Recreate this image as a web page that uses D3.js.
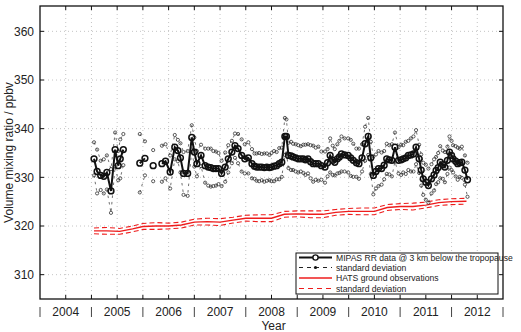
<!DOCTYPE html>
<html><head><meta charset="utf-8">
<script src="https://cdn.jsdelivr.net/npm/d3@7"></script>
<style>body{margin:0;background:#fff}svg{display:block}text{font-family:"Liberation Sans",Arial,Helvetica,sans-serif;fill:#222}</style>
</head><body><svg id="c" width="521" height="332"></svg>
<script>
// MIPAS RR mean (null = gap), and standard deviation
const mipasTime = [2005.05,2005.11,2005.18,2005.24,2005.30,2005.38,2005.46,2005.52,2005.56,2005.62,null,
 2005.94,2006.04,null,2006.20,null,
 2006.37,2006.44,2006.53,2006.62,2006.68,2006.73,2006.79,2006.87,2006.95,2007.00,2007.05,2007.13,2007.21,2007.27,2007.32,2007.37,2007.42,2007.47,2007.53,2007.60,2007.66,2007.73,2007.79,2007.85,2007.92,2007.98,
 2008.05,2008.12,2008.17,2008.21,2008.26,2008.31,2008.36,2008.41,2008.46,2008.50,2008.55,2008.60,2008.65,2008.70,2008.76,2008.79,2008.83,2008.88,2008.92,2008.97,
 2009.02,2009.07,2009.12,2009.16,2009.21,2009.26,2009.31,2009.36,2009.41,2009.47,2009.54,2009.59,2009.64,2009.69,2009.73,2009.78,2009.82,2009.86,2009.92,2009.99,
 2010.04,2010.09,2010.15,2010.20,2010.26,2010.32,2010.38,2010.43,2010.48,2010.53,2010.58,2010.64,2010.69,2010.74,2010.79,2010.84,2010.90,2010.97,
 2011.02,2011.06,2011.11,2011.16,2011.21,2011.26,2011.31,2011.37,2011.41,2011.45,2011.50,2011.55,2011.61,2011.66,2011.70,2011.74,2011.78,2011.83,2011.87,2011.92,2011.96,
 2012.00,2012.03,2012.08,2012.12,2012.16,2012.20,2012.26,2012.31];
const mipasMean = [333.8,331.2,330.4,330.2,331.0,327.2,335.7,332.4,333.8,335.7,null,
 332.9,333.9,null,332.4,null,
 332.8,333.3,331.1,336.2,335.5,334.0,330.8,330.8,338.2,335.2,332.8,334.5,332.4,332.1,332.0,331.8,331.8,331.8,330.8,332.1,333.8,335.2,336.5,335.9,334.5,333.8,
 334.0,332.8,332.3,332.1,332.1,332.1,332.0,332.1,332.0,332.1,332.3,332.4,332.8,333.1,338.4,338.4,334.5,334.4,334.2,334.0,
 333.8,333.8,333.8,333.6,333.8,333.2,332.8,332.8,332.8,332.4,332.1,333.0,334.5,333.5,333.1,333.8,334.2,334.8,334.6,334.5,
 334.0,333.5,333.0,332.8,334.0,336.9,338.4,334.0,330.4,331.2,331.8,331.8,332.5,333.8,333.6,333.5,336.2,333.5,
 333.6,333.8,334.0,334.5,334.6,334.8,336.2,333.8,331.5,329.7,329.0,328.3,329.7,330.5,331.4,332.0,333.1,332.6,332.1,333.5,335.2,
 334.5,333.8,333.3,332.8,333.0,333.1,331.5,329.5];
const mipasSd = [3.4,4.5,3.0,3.5,3.5,4.5,3.5,3.0,4.0,3.2,null,
 6.0,3.5,null,3.2,null,
 3.7,3.5,3.4,2.5,2.2,3.0,4.4,4.6,2.5,3.0,2.6,2.2,3.5,3.8,3.9,3.6,3.5,3.2,2.6,3.0,2.8,2.3,2.5,3.0,3.3,3.0,
 3.2,3.0,2.6,2.8,2.9,2.7,2.9,2.8,2.6,2.9,3.1,2.8,3.2,3.0,3.8,3.5,2.6,2.9,2.7,2.8,
 2.8,2.6,2.9,3.1,3.0,3.4,3.7,3.3,3.5,2.9,3.2,2.8,3.5,3.0,2.7,3.0,3.3,3.6,3.4,3.5,
 3.7,3.4,2.9,3.1,2.8,3.5,3.8,3.3,3.9,3.5,3.6,3.3,2.9,3.1,3.0,3.3,3.0,2.7,
 3.1,2.8,3.3,3.0,3.4,3.6,3.5,2.9,3.2,3.3,3.6,3.5,3.0,3.2,2.8,3.0,3.3,2.9,3.1,2.8,3.2,
 3.0,2.8,3.1,3.3,2.9,3.2,3.0,3.5];
// HATS ground observations
const hatsTime = [2005.05,2005.30,2005.55,2005.80,2006.00,2006.25,2006.50,2006.75,2007.00,2007.25,2007.50,2007.75,2008.00,2008.25,2008.50,2008.75,2009.00,2009.25,2009.50,2009.75,2010.00,2010.25,2010.50,2010.75,2011.00,2011.25,2011.50,2011.75,2012.00,2012.29];
const hatsMean = [319.0,319.0,318.9,319.4,319.9,320.0,320.0,320.2,320.8,320.9,320.8,321.2,321.6,321.6,321.6,322.4,322.5,322.4,322.4,322.8,323.0,323.0,323.0,323.8,324.0,324.0,324.3,324.8,325.0,325.1];
const hatsSd = [0.6,0.7,0.6,0.6,0.6,0.7,0.6,0.6,0.6,0.7,0.7,0.6,0.6,0.7,0.7,0.6,0.6,0.7,0.7,0.6,0.6,0.7,0.7,0.6,0.6,0.7,0.6,0.6,0.6,0.6];
const yTicks = [310,320,330,340,350,360];
const yearLabels = [2004,2005,2006,2007,2008,2009,2010,2011,2012];
const legendLabels = ["MIPAS RR data @ 3 km below the tropopause","standard deviation","HATS ground observations","standard deviation"];

const svg = d3.select("#c");
const L=40,R=503,T=6,B=299;
const x = d3.scaleLinear().domain([2004,2013]).range([L,R]);
const y = d3.scaleLinear().domain([305,365]).range([B,T+1]);

const mip = mipasTime.map((t,i)=>({t, v:mipasMean[i], sd:mipasSd[i]}));
const hats = hatsTime.map((t,i)=>({t, v:hatsMean[i], sd:hatsSd[i]}));

// grid
const halfYears = d3.range(2004.5, 2013, 0.5);
const grid = svg.append("g").attr("stroke","#b5b5b5").attr("stroke-width",0.8).attr("stroke-dasharray","1,3");
grid.selectAll(".v").data(halfYears).join("line").attr("x1",d=>x(d)).attr("x2",d=>x(d)).attr("y1",T).attr("y2",B);
grid.selectAll(".h").data(yTicks).join("line").attr("x1",L).attr("x2",R).attr("y1",d=>y(d)).attr("y2",d=>y(d));

// HATS
const red = "#ee1c1c";
const hl = (f)=>d3.line().x(d=>x(d.t)).y(f);
svg.append("path").datum(hats).attr("fill","none").attr("stroke",red).attr("stroke-width",1.1).attr("stroke-dasharray","5,3")
 .attr("d",hl(d=>y(d.v+d.sd)));
svg.append("path").datum(hats).attr("fill","none").attr("stroke",red).attr("stroke-width",1.1).attr("stroke-dasharray","5,3")
 .attr("d",hl(d=>y(d.v-d.sd)));
svg.append("path").datum(hats).attr("fill","none").attr("stroke",red).attr("stroke-width",1.4)
 .attr("d",hl(d=>y(d.v)));

// MIPAS sd
const def = d=>d.v!=null;
["up","lo"].forEach(k=>{
  const f = k==="up" ? d=>y(d.v+d.sd) : d=>y(d.v-d.sd);
  svg.append("path").datum(mip).attr("fill","none").attr("stroke","#333").attr("stroke-width",0.7).attr("stroke-dasharray","2.5,4")
   .attr("d",d3.line().defined(def).x(d=>x(d.t)).y(f));
  svg.append("g").selectAll("circle").data(mip.filter(def)).join("circle")
   .attr("cx",d=>x(d.t)).attr("cy",f).attr("r",1.6).attr("fill","none").attr("stroke","#333").attr("stroke-width",0.8);
});
// MIPAS mean
svg.append("path").datum(mip).attr("fill","none").attr("stroke","#111").attr("stroke-width",2)
 .attr("d",d3.line().defined(def).x(d=>x(d.t)).y(d=>y(d.v)));
svg.append("g").selectAll("circle").data(mip.filter(def)).join("circle")
 .attr("cx",d=>x(d.t)).attr("cy",d=>y(d.v)).attr("r",2.9).attr("fill","none").attr("stroke","#111").attr("stroke-width",1.5);

// frame and ticks
svg.append("rect").attr("x",L).attr("y",T).attr("width",R-L).attr("height",B-T).attr("fill","none").attr("stroke","#111").attr("stroke-width",1.3);
const tk = svg.append("g").attr("stroke","#111").attr("stroke-width",1);
tk.selectAll(".tt").data(halfYears).join("line").attr("x1",d=>x(d)).attr("x2",d=>x(d)).attr("y1",T).attr("y2",T+4);
tk.selectAll(".bt").data(halfYears).join("line").attr("x1",d=>x(d)).attr("x2",d=>x(d)).attr("y1",B).attr("y2",B-4);
tk.selectAll(".lt").data(yTicks).join("line").attr("x1",L).attr("x2",L+4).attr("y1",d=>y(d)).attr("y2",d=>y(d));
tk.selectAll(".rt").data(yTicks).join("line").attr("x1",R).attr("x2",R-4).attr("y1",d=>y(d)).attr("y2",d=>y(d));

// y labels
svg.append("g").selectAll("text").data(yTicks).join("text").attr("x",L-6).attr("y",d=>y(d)).attr("dy","0.35em")
 .attr("text-anchor","end").attr("font-size",12).text(d=>d);
// year separators and labels
const seps = d3.range(2004, 2014, 1);
svg.append("g").attr("stroke","#444").attr("stroke-width",1).selectAll("line").data(seps).join("line")
 .attr("x1",d=>x(d)).attr("x2",d=>x(d)).attr("y1",307).attr("y2",317);
svg.append("g").selectAll("text").data(yearLabels).join("text").attr("x",d=>x(d+0.5)).attr("y",316)
 .attr("text-anchor","middle").attr("font-size",12).text(d=>d);
svg.append("text").attr("x",(L+R)/2+2).attr("y",330).attr("text-anchor","middle").attr("font-size",12).text("Year");
svg.append("text").attr("transform",`translate(13,${(T+B)/2}) rotate(-90)`).attr("text-anchor","middle").attr("font-size",12)
 .text("Volume mixing ratio / ppbv");

// legend
const lg = svg.append("g");
lg.append("rect").attr("x",296).attr("y",253).attr("width",202).attr("height",41).attr("fill","#fff").attr("stroke","#111").attr("stroke-width",1);
const rows = [257.5,267.5,278,288.5];
const sty = [
 {c:"#111",w:1.8,d:null,m:"big"},
 {c:"#222",w:1,d:"4,4",m:"dot"},
 {c:red,w:1.4,d:null,m:null},
 {c:red,w:1.1,d:"5,4",m:null}];
legendLabels.forEach((lab,i)=>{
  const s=sty[i], yy=rows[i];
  lg.append("line").attr("x1",299).attr("x2",332).attr("y1",yy).attr("y2",yy).attr("stroke",s.c).attr("stroke-width",s.w).attr("stroke-dasharray",s.d);
  if(s.m==="big") lg.append("circle").attr("cx",315.5).attr("cy",yy).attr("r",2.6).attr("fill","#fff").attr("stroke","#111").attr("stroke-width",1.4);
  if(s.m==="dot") lg.append("circle").attr("cx",315.5).attr("cy",yy).attr("r",1.6).attr("fill","#111");
  lg.append("text").attr("x",336).attr("y",yy).attr("dy","0.35em").attr("font-size",8.6).text(lab);
});
</script></body></html>
